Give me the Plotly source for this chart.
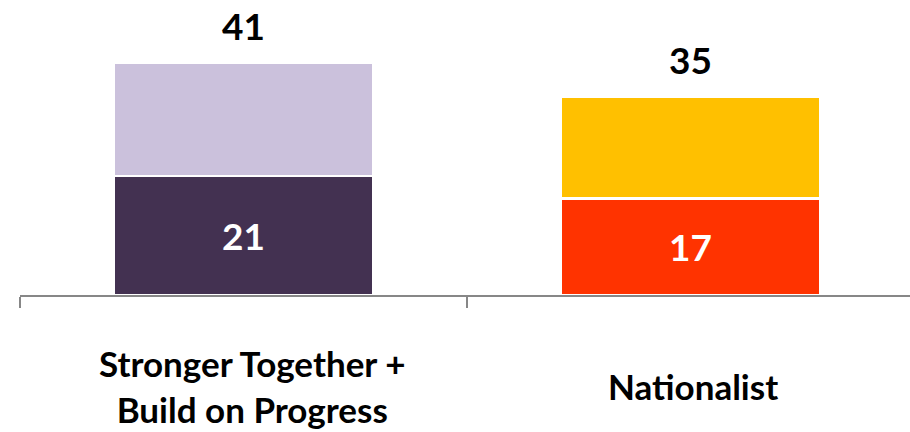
import plotly.graph_objects as go

categories = ["Stronger Together +<br>Build on Progress", "Nationalist"]
bottom_values = [21, 17]
top_values = [20, 18]
totals = [41, 35]
bottom_colors = ["#433151", "#FF3300"]
top_colors = ["#CBC1DC", "#FFC000"]

FONT = "Lato"
label_xshift = [8, 2]

fig = go.Figure()
fig.add_trace(go.Bar(
    x=categories, y=bottom_values,
    marker=dict(color=bottom_colors, line=dict(color="white", width=2.5)),
    text=[str(v) for v in bottom_values], textposition="inside",
    insidetextanchor="middle",
    textfont=dict(family=FONT, size=37, color="white", weight="bold"),
    width=0.582, hoverinfo="skip", showlegend=False,
))
fig.add_trace(go.Bar(
    x=categories, y=top_values,
    marker=dict(color=top_colors, line=dict(color="white", width=2.5)),
    width=0.582, hoverinfo="skip", showlegend=False,
))

for c, t, xs in zip(categories, totals, label_xshift):
    fig.add_annotation(x=c, y=t, xref="x", yref="y", text=f"<b>{t}</b>",
                       showarrow=False, yanchor="middle", yshift=37,
                       font=dict(family=FONT, size=37, color="black"))
    fig.add_annotation(x=c, y=0, xref="x", yref="y", text=f"<b>{c}</b>",
                       showarrow=False, yanchor="middle", yshift=-91, xshift=xs,
                       font=dict(family=FONT, size=35, color="black"))

fig.update_layout(
    width=910, height=432,
    margin=dict(l=20, r=0, t=0, b=137),
    barmode="stack",
    plot_bgcolor="white", paper_bgcolor="white",
    xaxis=dict(showline=True, linecolor="#878787", linewidth=2,
               ticks="outside", tickson="boundaries", ticklen=11,
               tickcolor="#878787", tickwidth=2, showticklabels=False,
               showgrid=False, range=[-0.5, 1.491]),
    yaxis=dict(visible=False, range=[0, 52.1], showgrid=False),
)

fig.write_html("out.html", config={"displayModeBar": False, "staticPlot": True})
with open("out.html", encoding="utf-8") as f:
    html = f.read()
html = html.replace("<head>", "<head><style>html,body{margin:0;padding:0;overflow:hidden}</style>", 1)
with open("out.html", "w", encoding="utf-8") as f:
    f.write(html)
